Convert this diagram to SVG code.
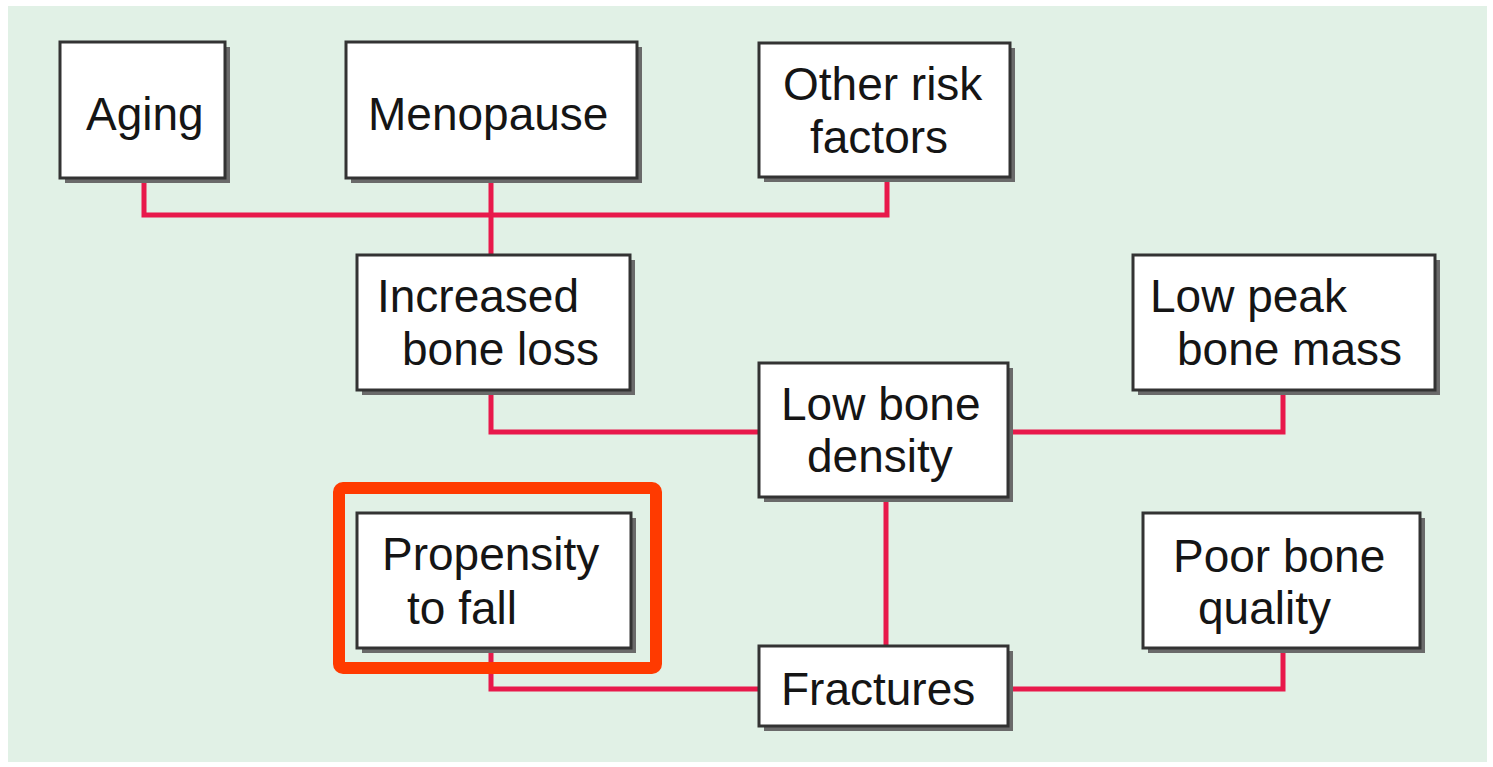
<svg xmlns="http://www.w3.org/2000/svg" width="1493" height="767" viewBox="0 0 1493 767">
<style>
.box{fill:#ffffff;stroke:#333333;stroke-width:3}
.sh{fill:#6a6a6a}
.t{font-family:"Liberation Sans",Arial,sans-serif;font-size:46px;fill:#151515}
.c{fill:none;stroke:#e8194b;stroke-width:5}
</style>
<rect x="0" y="0" width="1493" height="767" fill="#ffffff"/>
<rect x="8" y="6" width="1479" height="756" fill="#e1f1e6"/>
<g id="connectors">
<polyline class="c" points="144,178 144,215 887,215 887,178"/>
<line class="c" x1="491" y1="178" x2="491" y2="255"/>
<polyline class="c" points="491,390 491,432 759,432"/>
<polyline class="c" points="1008,432 1283,432 1283,390"/>
<line class="c" x1="886" y1="497" x2="886" y2="646"/>
<polyline class="c" points="491,648 491,689 759,689"/>
<polyline class="c" points="1008,689 1283,689 1283,648"/>
</g>
<g id="aging">
<rect class="sh" x="65" y="47" width="165" height="136"/>
<rect class="box" x="60" y="42" width="165" height="136"/>
<text class="t" x="86" y="130">Aging</text>
</g>
<g id="menopause">
<rect class="sh" x="351" y="47" width="291" height="136"/>
<rect class="box" x="346" y="42" width="291" height="136"/>
<text class="t" x="368" y="130">Menopause</text>
</g>
<g id="other">
<rect class="sh" x="764" y="48" width="251" height="134"/>
<rect class="box" x="759" y="43" width="251" height="134"/>
<text class="t" x="783" y="100">Other risk</text>
<text class="t" x="810" y="153">factors</text>
</g>
<g id="increased">
<rect class="sh" x="362" y="260" width="273" height="135"/>
<rect class="box" x="357" y="255" width="273" height="135"/>
<text class="t" x="377" y="312">Increased</text>
<text class="t" x="402" y="365">bone loss</text>
</g>
<g id="lowpeak">
<rect class="sh" x="1138" y="260" width="302" height="135"/>
<rect class="box" x="1133" y="255" width="302" height="135"/>
<text class="t" x="1150" y="312">Low peak</text>
<text class="t" x="1177" y="365">bone mass</text>
</g>
<g id="lowdensity">
<rect class="sh" x="764" y="368" width="249" height="134"/>
<rect class="box" x="759" y="363" width="249" height="134"/>
<text class="t" x="781" y="420">Low bone</text>
<text class="t" x="807" y="472">density</text>
</g>
<g id="propensity">
<rect class="sh" x="362" y="518" width="274" height="135"/>
<rect class="box" x="357" y="513" width="274" height="135"/>
<text class="t" x="382" y="570">Propensity</text>
<text class="t" x="407" y="624">to fall</text>
</g>
<g id="poorquality">
<rect class="sh" x="1148" y="518" width="277" height="135"/>
<rect class="box" x="1143" y="513" width="277" height="135"/>
<text class="t" x="1173" y="572">Poor bone</text>
<text class="t" x="1198" y="624">quality</text>
</g>
<g id="fractures">
<rect class="sh" x="764" y="651" width="249" height="80"/>
<rect class="box" x="759" y="646" width="249" height="80"/>
<text class="t" x="781" y="705">Fractures</text>
</g>
<g id="highlight">
<rect x="339" y="488" width="317" height="180" rx="4" fill="none" stroke="#ff3a00" stroke-width="12"/>
</g>
</svg>
